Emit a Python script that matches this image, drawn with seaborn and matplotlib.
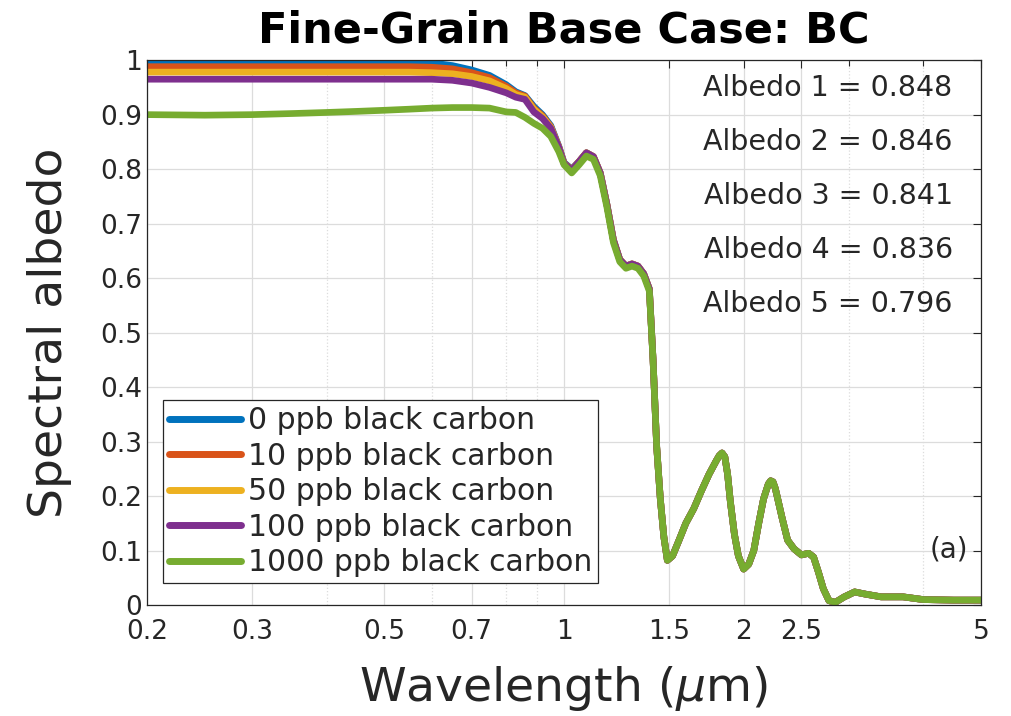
import numpy as np
import pandas as pd
import matplotlib
matplotlib.use("Agg")
import matplotlib.pyplot as plt
import seaborn as sns

# wavelength grid (um), split into visible / near-IR / shortwave-IR parts
wl_vis = [0.20, 0.25, 0.30, 0.35, 0.40, 0.45, 0.50, 0.55, 0.60, 0.65, 0.70,
          0.75, 0.80, 0.83, 0.86, 0.89, 0.92, 0.95, 0.98, 1.00, 1.03]
wl_nir = [1.06, 1.09, 1.12, 1.15, 1.18, 1.21, 1.24, 1.27, 1.30, 1.33, 1.36, 1.39]
wl_swir = [1.41, 1.43, 1.45, 1.47, 1.49, 1.52, 1.56, 1.60, 1.65, 1.70, 1.75,
           1.80, 1.82, 1.84, 1.86, 1.88, 1.90, 1.93, 1.96, 2.00, 2.04, 2.08, 2.12, 2.16,
           2.20, 2.22, 2.24, 2.26, 2.28, 2.32, 2.37, 2.43, 2.50, 2.57, 2.62, 2.67, 2.72,
           2.78, 2.85, 2.95, 3.07, 3.20, 3.40, 3.70, 4.00, 4.50, 5.00]

# visible part, one per black carbon concentration
alb_0ppb_vis = [0.997, 0.997, 0.997, 0.997, 0.997, 0.997, 0.997, 0.996, 0.995, 0.990, 0.982,
                0.972, 0.955, 0.942, 0.935, 0.915, 0.900, 0.880, 0.842, 0.812, 0.800]
alb_10ppb_vis = [0.988, 0.988, 0.988, 0.988, 0.988, 0.988, 0.988, 0.988, 0.987, 0.984, 0.977,
                 0.968, 0.952, 0.940, 0.934, 0.912, 0.898, 0.878, 0.841, 0.811, 0.799]
alb_50ppb_vis = [0.978, 0.978, 0.978, 0.978, 0.978, 0.978, 0.978, 0.978, 0.977, 0.975, 0.970,
                 0.962, 0.948, 0.937, 0.932, 0.910, 0.896, 0.877, 0.840, 0.810, 0.798]
alb_100ppb_vis = [0.965, 0.965, 0.965, 0.965, 0.965, 0.965, 0.965, 0.965, 0.965, 0.963, 0.958,
                  0.950, 0.940, 0.932, 0.928, 0.905, 0.893, 0.875, 0.840, 0.810, 0.798]
alb_1000ppb_vis = [0.900, 0.899, 0.900, 0.902, 0.904, 0.906, 0.908, 0.910, 0.912, 0.913, 0.913,
                   0.912, 0.905, 0.904, 0.895, 0.884, 0.875, 0.860, 0.832, 0.808, 0.793]

# near-IR part: clean to 100 ppb nearly identical, 1000 ppb slightly lower
alb_clean_nir = [0.814, 0.830, 0.823, 0.793, 0.735, 0.670, 0.634, 0.622, 0.626, 0.622, 0.608, 0.580]
alb_1000ppb_nir = [0.808, 0.824, 0.818, 0.788, 0.730, 0.665, 0.630, 0.618, 0.622, 0.618, 0.604, 0.576]

# shortwave-IR part, all curves overlap
alb_swir = [0.450, 0.290, 0.195, 0.125, 0.082, 0.090, 0.120, 0.150, 0.177, 0.210, 0.240,
            0.265, 0.274, 0.279, 0.272, 0.240, 0.190, 0.130, 0.090, 0.066, 0.075, 0.100, 0.150, 0.195,
            0.222, 0.228, 0.226, 0.214, 0.196, 0.160, 0.119, 0.103, 0.092, 0.095, 0.088, 0.060, 0.030,
            0.008, 0.005, 0.015, 0.024, 0.020, 0.015, 0.015, 0.010, 0.009, 0.009]

labels = ["0 ppb black carbon", "10 ppb black carbon", "50 ppb black carbon",
          "100 ppb black carbon", "1000 ppb black carbon"]
colors = ["#0072BD", "#D95319", "#EDB120", "#7E2F8E", "#77AC30"]
broadband = [0.848, 0.846, 0.841, 0.836, 0.796]

wavelength = wl_vis + wl_nir + wl_swir
series = [alb_0ppb_vis + alb_clean_nir + alb_swir,
          alb_10ppb_vis + alb_clean_nir + alb_swir,
          alb_50ppb_vis + alb_clean_nir + alb_swir,
          alb_100ppb_vis + alb_clean_nir + alb_swir,
          alb_1000ppb_vis + alb_1000ppb_nir + alb_swir]

rows = []
for lab, vals in zip(labels, series):
    for w, a in zip(wavelength, vals):
        rows.append({"wavelength": w, "albedo": a, "case": lab})
df = pd.DataFrame(rows)

sns.set_style("white")
plt.rcParams["font.family"] = ["DejaVu Sans"]
plt.rcParams["mathtext.fontset"] = "dejavusans"

fig = plt.figure(figsize=(10.12, 7.16), dpi=100)
ax = fig.add_axes([0.1453, 0.155, 0.8241, 0.761])

sns.lineplot(data=df, x="wavelength", y="albedo", hue="case", hue_order=labels,
             palette=colors, linewidth=4.8, ax=ax, legend=False)

ax.set_xscale("log")
ax.set_xlim(0.2, 5)
ax.set_ylim(0, 1)
xt = [0.2, 0.3, 0.5, 0.7, 1, 1.5, 2, 2.5, 5]
ax.set_xticks(xt)
ax.set_xticklabels(["0.2", "0.3", "0.5", "0.7", "1", "1.5", "2", "2.5", "5"])
ax.set_xticks([0.4, 0.6, 0.8, 0.9, 3, 4], minor=True)
ax.set_xticklabels([], minor=True)
yt = np.round(np.arange(0, 1.01, 0.1), 1)
ax.set_yticks(yt)
ax.set_yticklabels(["0"] + [f"{v:.1f}" for v in yt[1:-1]] + ["1"])

ax.grid(which="major", color="#dcdcdc", linewidth=0.9)
ax.grid(which="minor", axis="x", color="#dcdcdc", linewidth=0.9, linestyle=":")
ax.set_axisbelow(True)
ax.tick_params(which="both", direction="in", top=True, right=True,
               colors="#262626", labelsize=19, length=6, width=0.8)
ax.tick_params(which="minor", length=4)
ax.tick_params(axis="x", pad=10)
for s in ax.spines.values():
    s.set_color("#262626")
    s.set_linewidth(0.9)

ax.set_xlabel(r"Wavelength ($\mu$m)", fontsize=34, color="#262626", labelpad=14)
ax.set_ylabel("Spectral albedo", fontsize=34, color="#262626", labelpad=20)
ax.set_title("Fine-Grain Base Case: BC", fontsize=31, fontweight="bold",
             color="black", pad=13)

for i, b in enumerate(broadband):
    ax.text(0.966, 0.949 - 0.099 * i, f"Albedo {i + 1} = {b:.3f}", transform=ax.transAxes,
            ha="right", va="center", fontsize=20.5, color="#262626")
ax.text(0.984, 0.101, "(a)", transform=ax.transAxes, ha="right", va="center",
        fontsize=20, color="#262626")

handles = [plt.Line2D([], [], color=c, linewidth=5) for c in colors]
leg = ax.legend(handles, labels, loc="lower left", bbox_to_anchor=(0.019, 0.04),
                borderaxespad=0, fontsize=21.5, fancybox=False, framealpha=1,
                edgecolor="#262626", handlelength=2.4, handletextpad=0.25,
                labelspacing=0.22, borderpad=0.2)
leg.get_frame().set_linewidth(0.9)

fig.savefig("out.png", dpi=100)
